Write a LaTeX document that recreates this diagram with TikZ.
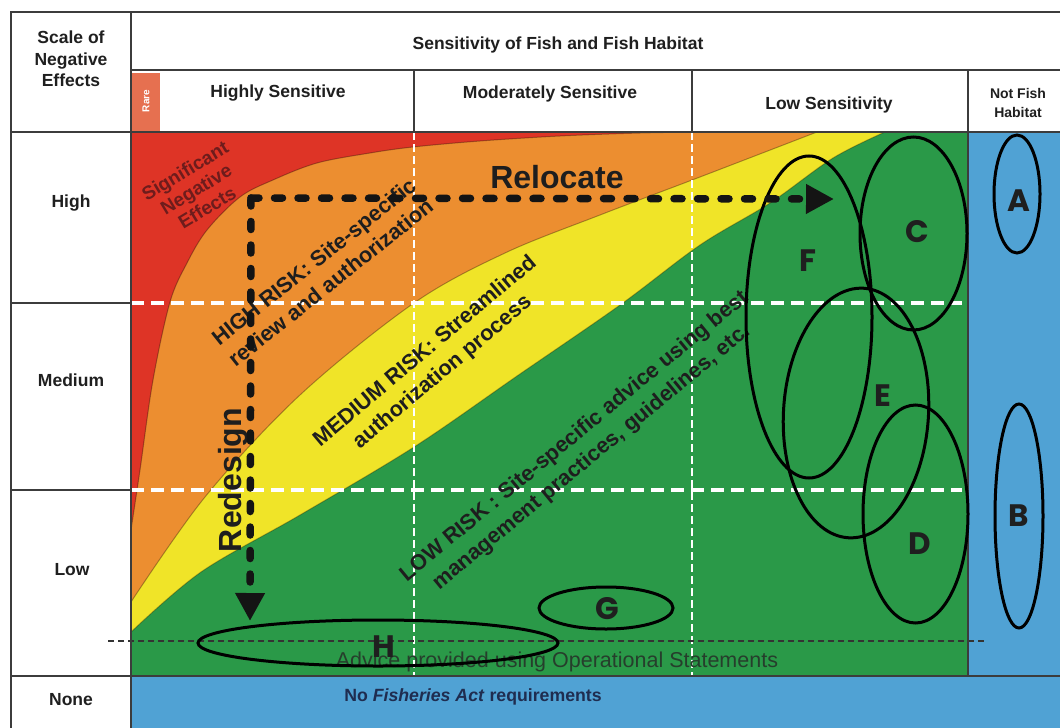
\documentclass[tikz,border=0pt]{standalone}
\usepackage{fontspec}
\setmainfont{Liberation Sans}
\newfontfamily\lblfont{Poppins}
\usetikzlibrary{arrows.meta,shapes.geometric}
\definecolor{cRed}{RGB}{222,52,38}
\definecolor{cOrange}{RGB}{236,142,48}
\definecolor{cYellow}{RGB}{240,228,40}
\definecolor{cGreen}{RGB}{42,153,72}
\definecolor{cBlue}{RGB}{80,162,212}
\definecolor{cRare}{RGB}{230,112,80}
\definecolor{cFrame}{RGB}{60,60,60}
\definecolor{cText}{RGB}{30,30,30}
\definecolor{cSne}{RGB}{110,28,28}
\definecolor{cAdvice}{RGB}{38,62,44}
\definecolor{cNavy}{RGB}{31,45,80}
\begin{document}
\begin{tikzpicture}[x=1pt,y=-1pt,
  frame/.style={draw=cFrame, line width=1.8pt},
  gridw/.style={draw=white, line width=3.5pt, dash pattern=on 13pt off 7pt},
  gridv/.style={draw=white, line width=2.8pt, dash pattern=on 8pt off 4pt},
  edge/.style={draw=black, draw opacity=0.3, line width=1pt},
  hdr/.style={font=\bfseries\fontsize{17.5}{21.5}\selectfont, text=black!88, inner sep=0pt, align=center},
  risk/.style={font=\bfseries\fontsize{21.7}{27}\selectfont, text=cText, align=center, inner sep=0pt},
  big/.style={font=\bfseries\fontsize{32}{34}\selectfont, text=cText, inner sep=0pt},
  ell/.style={ellipse, draw=black, line width=3pt, inner sep=0pt},
  lbl/.style={font=\lblfont\bfseries\fontsize{31}{31}\selectfont, text=black!88, inner sep=0pt},
  movearrow/.style={draw=black!92, line width=7.5pt, dash pattern=on 8pt off 15.5pt, line cap=round,
    -{Triangle[length=28pt,width=28pt]}},
]
\useasboundingbox (0,0) rectangle (1060,728);
\fill[white] (0,0) rectangle (1060,728);

% colour zones
\fill[cGreen] (131,132) rectangle (968,676);
\fill[cYellow] (131,132) -- plot[smooth,tension=0.55] coordinates {(131,632) (201,572) (300,515) (414,447) (517,376) (620,305) (700,245) (770,203) (833,158) (885,132)} -- cycle;
\fill[cOrange] (131,132) -- plot[smooth,tension=0.55] coordinates {(131,602) (205,497) (300,395) (414,303) (505,253) (600,215) (700,177) (817,132)} -- cycle;
\fill[cRed] (131,132) -- plot[smooth,tension=0.55] coordinates {(131,530) (140,470) (153,380) (170,302) (187,263) (207,230) (240,197) (273,180) (317,163) (370,153) (413,147) (480,141) (560,136) (640,133) (700,132)} -- cycle;
\draw[edge] plot[smooth,tension=0.55] coordinates {(131,632) (201,572) (300,515) (414,447) (517,376) (620,305) (700,245) (770,203) (833,158) (885,132)};
\draw[edge] plot[smooth,tension=0.55] coordinates {(131,602) (205,497) (300,395) (414,303) (505,253) (600,215) (700,177) (817,132)};
\draw[edge] plot[smooth,tension=0.55] coordinates {(131,530) (140,470) (153,380) (170,302) (187,263) (207,230) (240,197) (273,180) (317,163) (370,153) (413,147) (480,141) (560,136) (640,133) (700,132)};
\fill[cBlue] (968,132) rectangle (1060,676);
\fill[cBlue] (131,676) rectangle (1060,728);
\fill[cRare] (132,73) rectangle (160,131);

% grid
\draw[gridw] (131,303) -- (962,303);
\draw[gridw] (131,490) -- (962,490);
\draw[gridv] (414,132) -- (414,676);
\draw[gridv] (692,132) -- (692,676);
\draw[draw=black!80, line width=1.5pt, dash pattern=on 6pt off 4pt] (108,641) -- (987,641);

% frame
\draw[frame] (1060,12) -- (11,12) -- (11,728);
\draw[frame] (131,12) -- (131,728);
\draw[frame] (131,70) -- (1060,70);
\draw[frame] (11,132) -- (1060,132);
\draw[frame] (11,303) -- (131,303);
\draw[frame] (11,490) -- (131,490);
\draw[frame] (11,676) -- (1060,676);
\draw[frame] (414,70) -- (414,132);
\draw[frame] (692,70) -- (692,132);
\draw[frame] (968,70) -- (968,132);
\draw[draw=cFrame, line width=1.2pt] (968,132) -- (968,676);

% header texts
\node[hdr] (title) at (558,45) {Sensitivity of Fish and Fish Habitat};
\node[hdr] (scale) at (71,59) {Scale of\\Negative\\Effects};
\node[hdr] (hs) at (278,93) {Highly Sensitive};
\node[hdr] (ms) at (550,94) {Moderately Sensitive};
\node[hdr] (ls) at (829,105) {Low Sensitivity};
\node[hdr, font=\bfseries\fontsize{14}{19}\selectfont] (nfh) at (1018,103) {Not Fish\\Habitat};
\node[rotate=90, text=white, font=\bfseries\fontsize{10}{10}\selectfont, inner sep=0pt] (rare) at (146,101) {Rare};
\node[hdr] (high) at (71,203) {High};
\node[hdr] (medium) at (71,380) {Medium};
\node[hdr] (low) at (72,570) {Low};
\node[hdr] (none) at (71,700) {None};

% zone texts
\node[font=\bfseries\fontsize{19}{21.5}\selectfont, text=cSne, align=center, inner sep=0pt, rotate=31] (sne) at (196,189) {Significant\\Negative\\Effects};
\node[risk, rotate=38.5] (hrisk) at (322,272) {HIGH RISK: Site-specific\\review and authorization};
\node[risk, rotate=40] (mrisk) at (434,362) {MEDIUM RISK: Streamlined\\authorization process};
\node[risk, rotate=39.5] (lrisk) at (583,447) {LOW RISK : Site-specific advice using best\\management practices, guidelines, etc.};
\node[font=\fontsize{21.5}{24}\selectfont, text=cAdvice, inner sep=0pt] (advice) at (557,662) {Advice provided using Operational Statements};
\node[font=\bfseries\fontsize{17.7}{21}\selectfont, text=cNavy, inner sep=0pt] (nofa) at (473,697) {No \textit{Fisheries Act} requirements};
\node[big] (relocate) at (557,177) {Relocate};
\node[big, rotate=90] (redesign) at (233,480) {Redesign};

% ellipses
\node[ell, minimum width=126pt, minimum height=322pt] (eF) at (809,317) {};
\node[ell, minimum width=107pt, minimum height=193pt] (eC) at (913.5,233.5) {};
\node[ell, minimum width=145pt, minimum height=250pt, rotate=-3.5] (eE) at (856,413) {};
\node[ell, minimum width=105pt, minimum height=218pt] (eD) at (915.5,514) {};
\node[ell, minimum width=46pt, minimum height=118pt] (eA) at (1017,194) {};
\node[ell, minimum width=48pt, minimum height=224pt] (eB) at (1019,516) {};
\node[ell, minimum width=134pt, minimum height=42pt] (eG) at (606,608) {};
\node[ell, minimum width=360pt, minimum height=46pt] (eH) at (378,643) {};

\node[lbl] (lF) at (808,261) {F};
\node[lbl] (lC) at (917,232) {C};
\node[lbl] (lE) at (883,396) {E};
\node[lbl] (lD) at (920,544) {D};
\node[lbl] (lA) at (1019,201) {A};
\node[lbl] (lB) at (1019,516) {B};
\node[lbl] (lG) at (607,609) {G};
\node[lbl] (lH) at (384,647) {H};

% move arrows
\coordinate (corner) at (251,198);
\coordinate (relocEnd) at (834,199);
\coordinate (redesEnd) at (250,621);
\draw[movearrow] (corner) -- (relocEnd);
\draw[movearrow] (corner) -- (redesEnd);
\end{tikzpicture}
\end{document}
